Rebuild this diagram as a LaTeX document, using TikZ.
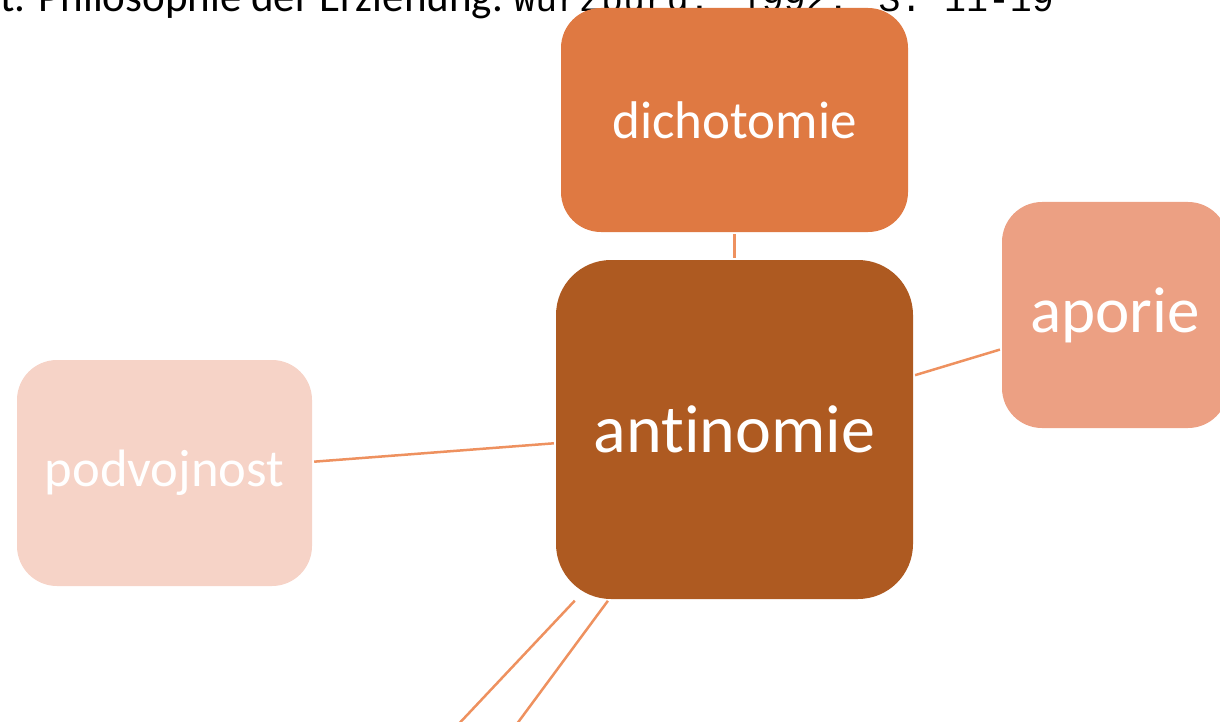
\documentclass[tikz,border=0pt]{standalone}
\usepackage{fontspec}
\setmainfont{Carlito}[Ligatures=NoCommon]
\newfontfamily\monof{Liberation Mono}
\definecolor{cDich}{HTML}{DF7942}
\definecolor{cAnti}{HTML}{AE5A21}
\definecolor{cApor}{HTML}{ECA083}
\definecolor{cPodv}{HTML}{F6D3C7}
\definecolor{cLine}{HTML}{EE915F}
\tikzset{
  box/.style={rectangle, draw=none, inner sep=0pt, text=white, align=center},
  link/.style={draw=cLine, line width=2.5pt, shorten <=2pt, shorten >=2pt},
  reftext/.style={inner sep=0pt, text=black}
}
\begin{document}
\begin{tikzpicture}[x=1pt,y=-1pt]
\useasboundingbox (0,0) rectangle (1220,722);
% header text (cut at the top edge)
\node[reftext, anchor=base west, font=\fontsize{43}{50}\selectfont] (refa) at (0,12)
  {t. Philosophie der Erziehung.};
\node[reftext, anchor=base west, font=\monof\fontsize{36.5}{42}\selectfont] (refb)
  at ([xshift=10pt]refa.base east) {Würzburg: 1992. S. 11-19};
% nodes
\node[box, fill=cDich, rounded corners=40pt, minimum width=347pt, minimum height=224pt,
      font=\fontsize{53}{60}\selectfont] (dich) at (734.5,120) {dichotomie};
\node[box, fill=cAnti, rounded corners=55pt, minimum width=357pt, minimum height=339pt,
      font=\fontsize{68}{76}\selectfont] (anti) at (734.5,429.5) {antinomie};
\node[box, fill=cApor, rounded corners=40pt, minimum width=226pt, minimum height=226pt,
      font=\fontsize{65}{72}\selectfont] (apor) at (1115,315) {aporie};
\node[box, fill=cPodv, rounded corners=40pt, minimum width=295pt, minimum height=226pt,
      font=\fontsize{52.6}{60}\selectfont] (podv) at (164.5,473) {podvojnost};
\coordinate (offA) at (340,850);
\coordinate (offB) at (420,855);
% connectors
\draw[link] (anti) -- (dich);
\draw[link] (anti) -- (apor);
\draw[link] (anti) -- (podv);
\draw[link] (anti) -- (offA);
\draw[link] (anti) -- (offB);
\end{tikzpicture}
\end{document}
